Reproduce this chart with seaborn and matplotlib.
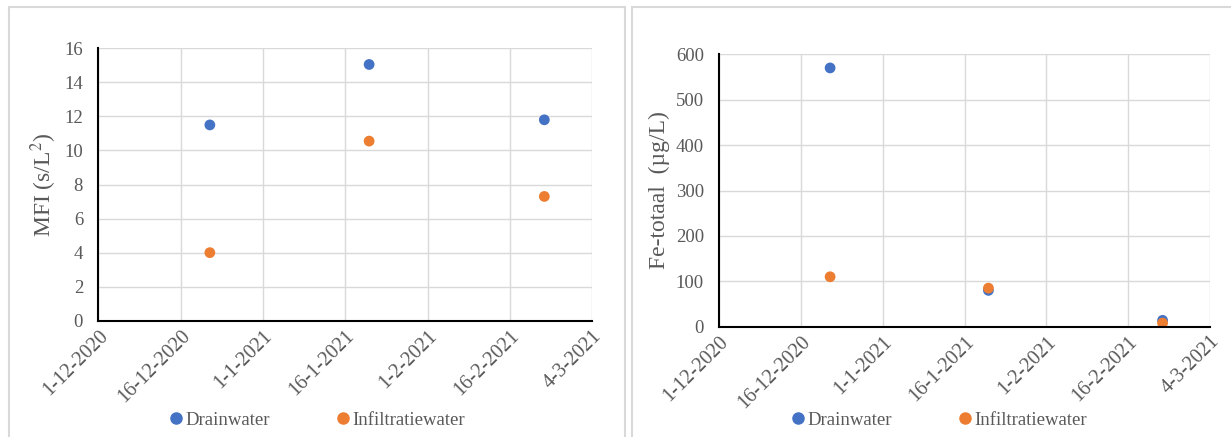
import numpy as np
import pandas as pd
import matplotlib
matplotlib.use("Agg")
import matplotlib.pyplot as plt
import matplotlib.dates as mdates
import matplotlib.ticker as tck
from matplotlib.patches import Rectangle
import seaborn as sns

# %% data
dates = ["2020-12-22", "2021-01-21", "2021-02-23"]
series = ["Drainwater", "Infiltratiewater"]
mfi_drain = [11.5, 15.05, 11.8]
mfi_infil = [4.0, 10.55, 7.3]
fe_drain = [570, 80, 14]
fe_infil = [110, 85, 8]

x_start = "2020-12-01"
x_end = "2021-03-04"
x_step = 15.5  # days, like the excel axis

colors = {"Drainwater": "#4472C4", "Infiltratiewater": "#ED7D31"}
grey = "#595959"

def make_df(drain, infil):
    return pd.DataFrame({
        "datum": pd.to_datetime(dates * 2),
        "waarde": drain + infil,
        "serie": [series[0]] * 3 + [series[1]] * 3,
    })

df_mfi = make_df(mfi_drain, mfi_infil)
df_fe = make_df(fe_drain, fe_infil)

# %% plot
sns.set_style("white")
plt.rcParams["font.family"] = ["Liberation Serif", "DejaVu Serif"]
plt.rcParams["mathtext.fontset"] = "stix"

fig = plt.figure(figsize=(12.31, 4.37), dpi=100, facecolor="white")
ax1 = fig.add_axes([0.0799, 0.266, 0.4011, 0.6235])
ax2 = fig.add_axes([0.5843, 0.2524, 0.3987, 0.6233])

# chart borders
fig.add_artist(Rectangle((9 / 1231, -0.05), 616 / 1231, 1.05 - 7 / 437, transform=fig.transFigure,
                         fill=False, ec="#D9D9D9", lw=1.5))
fig.add_artist(Rectangle((632 / 1231, -0.05), 0.6, 1.05 - 7 / 437, transform=fig.transFigure,
                         fill=False, ec="#D9D9D9", lw=1.5))

x0 = mdates.date2num(pd.Timestamp(x_start))
x1 = mdates.date2num(pd.Timestamp(x_end))
xticks = x0 + x_step * np.arange(7)

def date_fmt(v, pos):
    d = mdates.num2date(v)
    return f"{d.day}-{d.month}-{d.year}"

panels = [
    (ax1, df_mfi, (0, 16), 2, r"MFI (s/L$^2$)", (318 / 1231, 17 / 437)),
    (ax2, df_fe, (0, 600), 100, "Fe-totaal  (µg/L)", (940 / 1231, 17 / 437)),
]
for ax, df, ylim, ystep, ylabel, leg_pos in panels:
    sns.scatterplot(data=df, x="datum", y="waarde", hue="serie", palette=colors,
                    s=60, edgecolor="none", ax=ax, zorder=3, legend=False)
    ax.set_xlim(x0, x1)
    ax.set_ylim(*ylim)
    ax.set_xticks(xticks)
    ax.xaxis.set_major_formatter(tck.FuncFormatter(date_fmt))
    ax.yaxis.set_major_locator(tck.MultipleLocator(ystep))
    ax.grid(True, color="#D9D9D9", lw=1)
    ax.set_axisbelow(True)
    for s in ["top", "right"]:
        ax.spines[s].set_visible(False)
    for s in ["left", "bottom"]:
        ax.spines[s].set_color("black")
        ax.spines[s].set_linewidth(1.5)
        ax.spines[s].set_zorder(4)
    ax.tick_params(axis="x", length=0, labelsize=14.5, labelcolor=grey, pad=4)
    ax.tick_params(axis="y", length=0, labelsize=13.5, labelcolor=grey, pad=11)
    plt.setp(ax.get_xticklabels(), rotation=45, ha="right", rotation_mode="anchor")
    ax.set_xlabel("")
    ax.set_ylabel(ylabel, fontsize=17, color=grey, labelpad=4)

    handles = [plt.Line2D([], [], ls="none", marker="o", ms=8, color=colors[k]) for k in series]
    fig.legend(handles, series, loc="center", bbox_to_anchor=leg_pos, ncol=2, frameon=False,
               fontsize=13.5, labelcolor=grey, handlelength=0.6, handletextpad=0.2,
               columnspacing=3.6)

fig.savefig("out.png", dpi=100, facecolor="white")
